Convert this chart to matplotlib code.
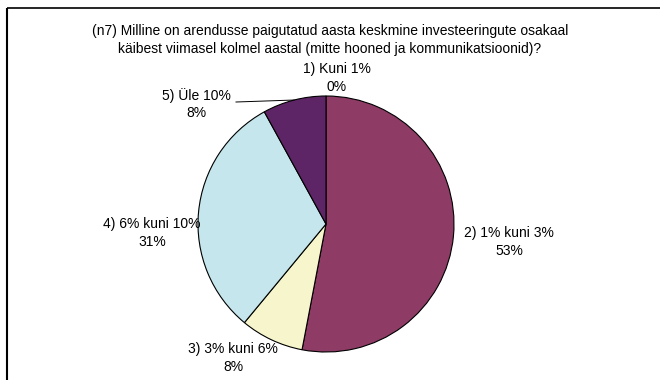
import numpy as np
import matplotlib
matplotlib.use("Agg")
import matplotlib.pyplot as plt

plt.rcParams['font.family'] = ['Liberation Sans', 'DejaVu Sans']

title = ("(n7) Milline on arendusse paigutatud aasta keskmine investeeringute osakaal\n"
         "käibest viimasel kolmel aastal (mitte hooned ja kommunikatsioonid)?")
categories = ["1) Kuni 1%", "2) 1% kuni 3%", "3) 3% kuni 6%", "4) 6% kuni 10%", "5) Üle 10%"]
values = [0, 53, 8, 31, 8]
colors = ["#9999FF", "#8E3B65", "#F6F5CB", "#C5E6EC", "#5E2566"]

W, H = 660, 380
fig = plt.figure(figsize=(W / 100, H / 100), dpi=100)
ax = fig.add_axes([0, 0, 1, 1])

cx, cy, r = 326, H - 224, 128
wedges, _ = ax.pie(values, colors=colors, startangle=90, counterclock=False,
                   center=(cx, cy), radius=r,
                   wedgeprops=dict(edgecolor="black", linewidth=0.8))
ax.set_xlim(0, W)
ax.set_ylim(0, H)
ax.set_aspect('equal')
ax.axis('off')

# label positions (pixel coords from top-left)
label_pos = [(337, 78), (509, 242), (233, 358), (152, 233), (196, 104)]
for cat, v, (px, py) in zip(categories, values, label_pos):
    ax.text(px, H - py, f"{cat}\n{v}%", ha='center', va='center',
            fontsize=10, linespacing=1.3, color='black')

# leader line for slice 5
w5 = wedges[4]
mid = np.deg2rad((w5.theta1 + w5.theta2) / 2)
ex, ey = cx + r * np.cos(mid), cy + r * np.sin(mid)
ax.plot([236, ex], [H - 102, ey], color='black', linewidth=0.7)

ax.text(W / 2, H - 40, title, ha='center', va='center', fontsize=10,
        linespacing=1.3)

# frame (top and left edges visible)
ax.plot([7, 7], [0, H - 8], color='black', linewidth=1.5, solid_capstyle='butt')
ax.plot([7, W], [H - 8, H - 8], color='black', linewidth=1.2, solid_capstyle='butt')

fig.savefig("out.png", dpi=100)
